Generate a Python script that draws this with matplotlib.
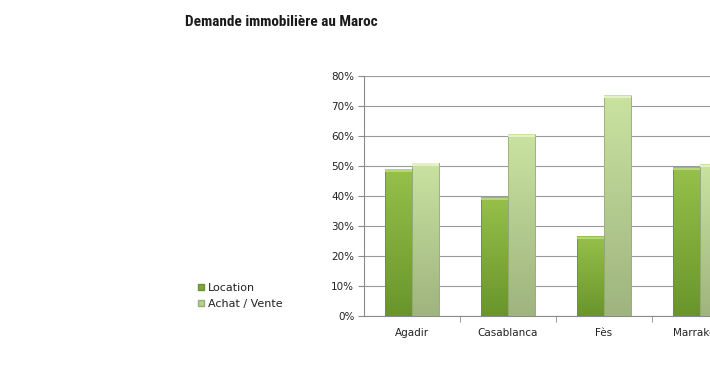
import matplotlib
matplotlib.use("Agg")
import matplotlib.pyplot as plt
from matplotlib import font_manager
from matplotlib.colors import LinearSegmentedColormap
from matplotlib.lines import Line2D
import numpy as np

villes = ["Agadir", "Casablanca", "Fès", "Marrakech"]
location = [49, 39.5, 26.5, 49.5]
achat_vente = [51, 60.5, 73.5, 50.5]
yticks = [0, 10, 20, 30, 40, 50, 60, 70, 80]

# narrow bold font for the title, if one is installed
noms = {f.name for f in font_manager.fontManager.ttflist}
titre_font = "Roboto"
titre_size = 10
for n in ["Liberation Sans Narrow", "Roboto Condensed", "DejaVu Sans Condensed"]:
    if n in noms:
        titre_font = n
        titre_size = 11
        break

fig = plt.figure(figsize=(7.1, 3.75), dpi=100)
# the plot area runs past the right edge, like the cropped original
ax = fig.add_axes([364 / 710, 59 / 375, 384 / 710, 240 / 375])

cm_loc = LinearSegmentedColormap.from_list("loc", ["#6a952b", "#96c04a"])
cm_ach = LinearSegmentedColormap.from_list("ach", ["#9fb47f", "#c9e2a0"])
grad = np.linspace(0, 1, 64).reshape(-1, 1)

w = 0.285
x = np.arange(len(villes))

def bar_grad(xc, h, cmap, edge, cap):
    left = xc - w / 2
    ax.imshow(grad, extent=[left, left + w, 0, h], origin="lower",
              cmap=cmap, aspect="auto", zorder=3)
    ax.add_patch(plt.Rectangle((left, 0), w, h, fill=False, ec=edge, lw=0.6, zorder=4))
    ax.add_patch(plt.Rectangle((left, h - 0.9), w, 0.9, fc=cap, ec="none", zorder=4))

for i in range(len(villes)):
    bar_grad(x[i] - w / 2, location[i], cm_loc, "#6d8f3a", "#b5d777")
    bar_grad(x[i] + w / 2, achat_vente[i], cm_ach, "#98ad7c", "#e2f2c4")

ax.set_xlim(-0.5, len(villes) - 0.5)
ax.set_ylim(0, 80)
ax.set_yticks(yticks)
ax.set_yticklabels([f"{v}%" for v in yticks])
ax.yaxis.grid(True, color="#9a9a9a", lw=0.8)
ax.set_axisbelow(True)

ax.set_xticks(x)
ax.set_xticklabels(villes)
ax.set_xticks(np.arange(len(villes)) + 0.5, minor=True)
ax.tick_params(axis="x", which="major", length=0, pad=9)
ax.tick_params(axis="x", which="minor", length=4, color="#8a8a8a")
ax.tick_params(axis="y", length=4, color="#8a8a8a", pad=3)
for lab in ax.get_xticklabels() + ax.get_yticklabels():
    lab.set_fontsize(7.5)
    lab.set_color("#222222")

for s in ["top", "right"]:
    ax.spines[s].set_visible(False)
ax.spines["left"].set_color("#8a8a8a")
ax.spines["bottom"].set_color("#8a8a8a")

fig.text(185 / 710, 1 - 22 / 375, "Demande immobilière au Maroc",
         family=[titre_font, "DejaVu Sans"], fontweight="bold",
         fontsize=titre_size, va="center", ha="left", color="#1a1a1a")

handles = [
    Line2D([], [], marker="s", ls="none", ms=5, mfc="#7fa83a", mec="#6d8f3a"),
    Line2D([], [], marker="s", ls="none", ms=5, mfc="#b5cf8e", mec="#98ad7c"),
]
leg = fig.legend(handles, ["Location", "Achat / Vente"], loc="center left",
                 bbox_to_anchor=(192 / 710, 1 - 296 / 375), frameon=False,
                 fontsize=8, handlelength=0.6, handletextpad=0.3,
                 labelspacing=0.5, borderpad=0)
for t in leg.get_texts():
    t.set_color("#222222")

fig.savefig("out.png", dpi=100)
